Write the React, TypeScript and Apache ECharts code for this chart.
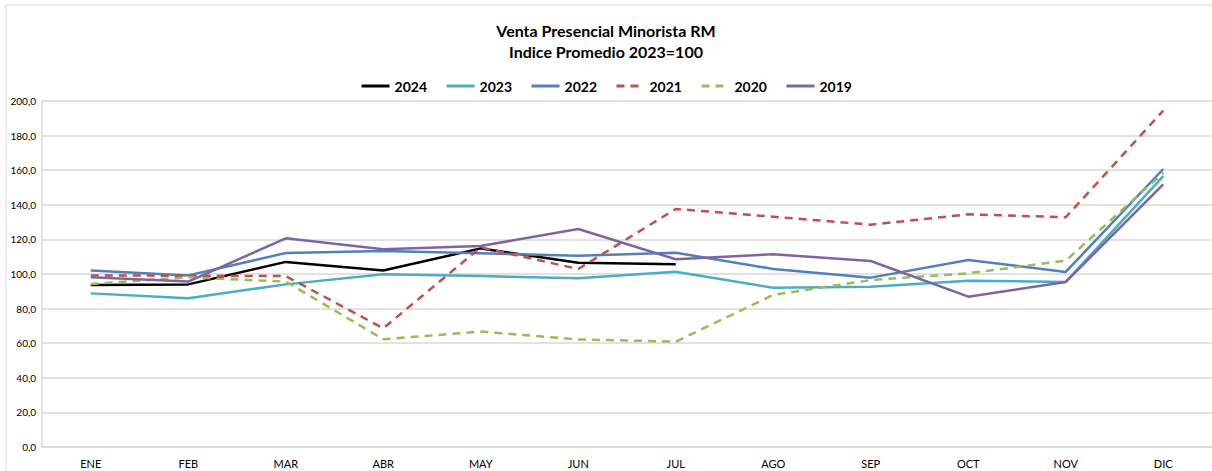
import React, { useEffect, useRef } from "react";
import * as echarts from "echarts";

const months = ["ENE", "FEB", "MAR", "ABR", "MAY", "JUN", "JUL", "AGO", "SEP", "OCT", "NOV", "DIC"];
const yTicks = { min: 0, max: 200, interval: 20 };

const s2024 = [93.6, 94.0, 107.0, 102.0, 114.8, 106.5, 105.6, null, null, null, null, null];
const s2023 = [88.8, 86.0, 94.0, 99.8, 98.8, 97.5, 101.3, 92.0, 92.7, 96.1, 95.4, 156.6];
const s2022 = [102.0, 99.2, 112.1, 113.3, 112.0, 110.6, 112.3, 102.9, 97.9, 108.1, 101.2, 160.7];
const s2021 = [99.2, 99.0, 98.8, 68.6, 115.4, 102.9, 137.6, 133.1, 128.5, 134.5, 132.8, 194.4];
const s2020 = [94.2, 98.1, 95.6, 62.3, 66.7, 62.2, 60.9, 87.9, 96.5, 100.4, 107.7, 158.5];
const s2019 = [98.1, 95.6, 120.6, 114.3, 116.2, 126.0, 108.5, 111.4, 107.5, 86.9, 95.4, 151.8];

const seriesDefs = [
  { name: "2024", data: s2024, color: "#000000", type: "solid" },
  { name: "2023", data: s2023, color: "#4bacc6", type: "solid" },
  { name: "2022", data: s2022, color: "#4f81bd", type: "solid" },
  { name: "2021", data: s2021, color: "#c0504d", type: "dashed" },
  { name: "2020", data: s2020, color: "#9bbb59", type: "dashed" },
  { name: "2019", data: s2019, color: "#8064a2", type: "solid" },
];

const FONT = "Lato, 'Liberation Sans', sans-serif";

export default function App() {
  const ref = useRef<HTMLDivElement>(null);
  useEffect(() => {
    if (!ref.current) return;
    const chart = echarts.init(ref.current, null, { renderer: "svg" });
    chart.setOption({
      animation: false,
      backgroundColor: "#ffffff",
      title: {
        text: "Venta Presencial Minorista RM\nIndice Promedio 2023=100",
        left: "center",
        top: 15,
        textStyle: { fontFamily: FONT, fontSize: 16, fontWeight: "bold", color: "#000", lineHeight: 21 },
      },
      legend: {
        top: 74,
        left: "center",
        itemWidth: 28,
        itemHeight: 14,
        itemGap: 18,
        itemStyle: { opacity: 0 },
        lineStyle: { width: 3 },
        textStyle: { fontFamily: FONT, fontSize: 14, fontWeight: "bold", color: "#000" },
        data: seriesDefs.map((s) => s.name),
      },
      graphic: [
        {
          type: "rect",
          shape: { x: 6, y: 5, width: 1230, height: 500 },
          style: { fill: "none", stroke: "#d9d9d9", lineWidth: 1 },
          silent: true,
        },
      ],
      grid: { left: 42, right: -2, top: 101, bottom: 24 },
      xAxis: {
        type: "category",
        data: months,
        boundaryGap: true,
        axisLine: { show: true, lineStyle: { color: "#d9d9d9", width: 1.5 } },
        axisTick: { show: false },
        axisLabel: { fontFamily: FONT, fontSize: 11, color: "#000", margin: 11 },
      },
      yAxis: {
        type: "value",
        min: yTicks.min,
        max: yTicks.max,
        interval: yTicks.interval,
        axisLine: { show: true, lineStyle: { color: "#d9d9d9", width: 1.5 } },
        axisTick: { show: false },
        splitLine: { lineStyle: { color: "#d9d9d9", width: 1.5 } },
        axisLabel: {
          fontFamily: FONT,
          fontSize: 10,
          color: "#000",
          margin: 6,
          formatter: (v: number) => v.toFixed(1).replace(".", ","),
        },
      },
      series: seriesDefs.map((s) => ({
        name: s.name,
        type: "line",
        data: s.data,
        symbol: "none",
        connectNulls: false,
        color: s.color,
        lineStyle: {
          color: s.color,
          width: 2.5,
          type: s.type === "dashed" ? [8, 6] : "solid",
        },
      })),
    });
    return () => chart.dispose();
  }, []);
  return (
    <div
      ref={ref}
      style={{ position: "fixed", left: 0, top: 0, width: 1212, height: 471 }}
    />
  );
}
